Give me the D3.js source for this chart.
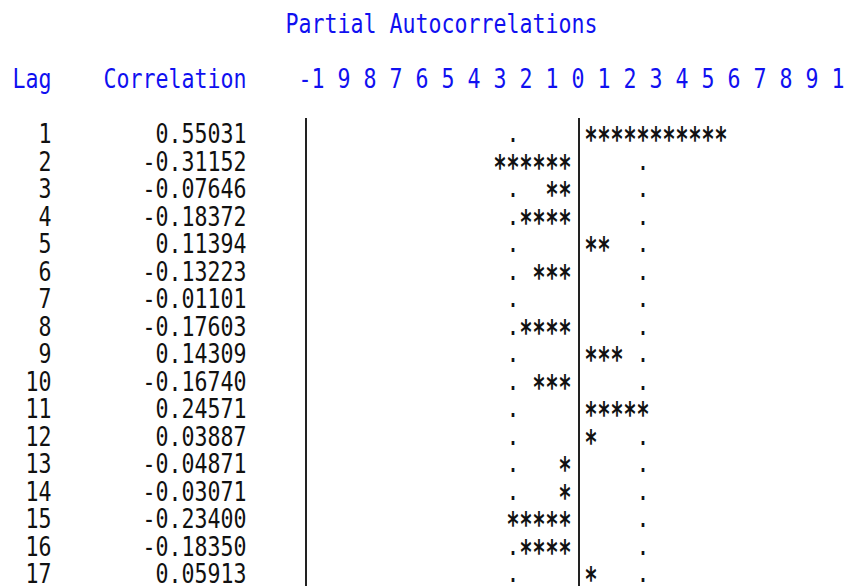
<!DOCTYPE html>
<html>
<head>
<meta charset="utf-8">
<script src="https://cdn.jsdelivr.net/npm/d3@7"></script>
<style>
  body { margin: 0; background: #fff; }
  text { font-family: "DejaVu Sans Mono", "Liberation Mono", monospace; font-size: 26px; }
  text.star { font-size: 34px; font-weight: bold; }
</style>
</head>
<body>
<div id="pacf"></div>
<script>
(function() {

const lags = [1, 2, 3, 4, 5, 6, 7, 8, 9, 10, 11, 12, 13, 14, 15, 16, 17]
const pacf = [0.55031, -0.31152, -0.07646, -0.18372, 0.11394, -0.13223, -0.01101, -0.17603,
  0.14309, -0.16740, 0.24571, 0.03887, -0.04871, -0.03071, -0.23400, -0.18350, 0.05913]
const tickLabels = ["-1", "9", "8", "7", "6", "5", "4", "3", "2", "1", "0",
  "1", "2", "3", "4", "5", "6", "7", "8", "9", "1"]
const twoStdErr = 0.25   // the "." marks
const title = "Partial Autocorrelations"

const width = 847, height = 586
const cw = 13          // one character cell
const blue = "#1010f0"

const svg = d3.select("#pacf")
  .append("svg")
  .attr("width", width)
  .attr("height", height)

// column index -> centre x, 0 is the zero bar
const col = d3.scaleLinear().domain([0, 1]).range([578, 578 + cw])
// row -> baseline
const y = d3.scaleLinear().domain([1, 2]).range([143, 170.5])
const unit = 20   // one star per 0.05

// helper: fixed pitch text, anchored at a cell edge
function put(str, x, yy, anchor, color) {
  return svg.append("text")
    .attr("x", x)
    .attr("y", yy)
    .attr("text-anchor", anchor)
    .attr("textLength", str.length * cw)
    .attr("lengthAdjust", "spacingAndGlyphs")
    .attr("fill", color)
    .text(str)
}

// title and header
put(title, col(-22) - cw / 2, 33, "start", blue)
put("Lag", col(-43) - cw / 2, 88, "start", blue)
put("Correlation", col(-36) - cw / 2, 88, "start", blue)
tickLabels.forEach(function(t, i) {
  put(t, col(-20 + 2 * i) + cw / 2, 88, "end", blue)
})

// bars sit under the "-" of -1, under 0, and past the last 1
;[-21, 0, 21].forEach(function(c) {
  svg.append("line")
    .attr("x1", col(c) + 1)
    .attr("x2", col(c) + 1)
    .attr("y1", y(lags[0]) - 25)
    .attr("y2", height)
    .attr("stroke", "#222")
    .attr("stroke-width", 2)
})

const dotCol = Math.round(twoStdErr * unit)

lags.forEach(function(lag, i) {
  const v = pacf[i]
  const yy = y(lag)
  put(String(lag), col(-41) + cw / 2, yy, "end", "#111")
  put(v.toFixed(5), col(-26) + cw / 2, yy, "end", "#111")

  const n = Math.round(Math.abs(v) * unit)
  if (n > 0) {
    const stars = "*".repeat(n)
    const s = v > 0 ? put(stars, col(1) - cw / 2, yy + 8, "start", "#111")
                    : put(stars, col(-1) + cw / 2, yy + 8, "end", "#111")
    s.attr("class", "star")
  }
  // two std err dots, hidden under the stars
  ;[-dotCol, dotCol].forEach(function(c) {
    const covered = (c > 0 && v > 0 && n >= c) || (c < 0 && v < 0 && n >= -c)
    if (!covered) put(".", col(c) - cw / 2, yy - 1, "start", "#111")
  })
})

})();
</script>
</body>
</html>
